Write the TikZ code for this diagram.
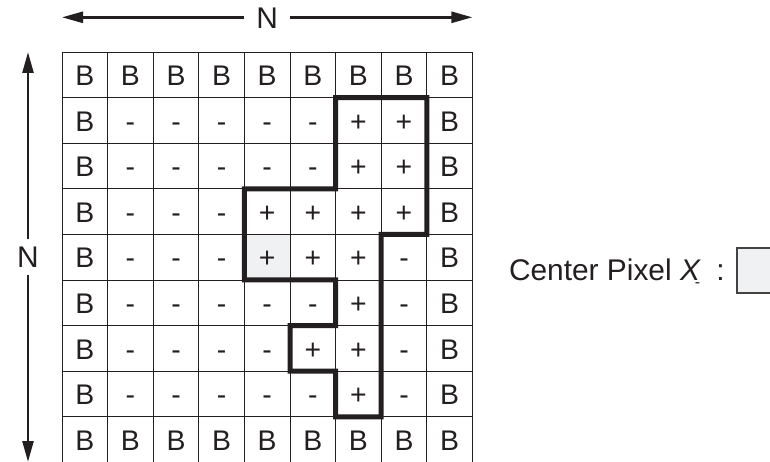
\documentclass[tikz,border=0pt]{standalone}
\usepackage{fontspec}
\setmainfont{Liberation Sans}
\usetikzlibrary{arrows.meta}
\definecolor{ink}{HTML}{231F20}
\definecolor{pixgray}{HTML}{F0F1F3}
\begin{document}
\begin{tikzpicture}[x=1bp,y=-1bp,
  cell/.style={draw=ink, line width=0.9bp, minimum width=45.6bp, minimum height=45.6bp,
    inner sep=0pt, outer sep=0pt, text height=21.5bp, text depth=0pt,
    font=\fontsize{28.5}{28.5}\selectfont, text=ink},
  dimlbl/.style={font=\fontsize{30}{30}\selectfont, text=ink, text height=21.5bp,
    text depth=0pt, inner xsep=12bp, inner ysep=7bp, outer sep=0pt},
  dimarrow/.style={draw=ink, line width=2.6bp, -{Triangle[length=21bp,width=11bp]}},
  region/.style={draw=ink, line width=5bp, line join=miter},
  lbl/.style={font=\fontsize{30}{30}\selectfont, text=ink, inner sep=0pt, outer sep=0pt},
  pixbox/.style={draw=ink!85, fill=pixgray, line width=1.2bp, minimum width=60bp,
    minimum height=45bp, inner sep=0pt, outer sep=0pt},
]
\useasboundingbox (0,0) rectangle (770,462);

% grid of cells
\foreach \rowlist [count=\ri] in {
  {B,B,B,B,B,B,B,B,B},
  {B,-,-,-,-,-,+,+,B},
  {B,-,-,-,-,-,+,+,B},
  {B,-,-,-,+,+,+,+,B},
  {B,-,-,-,+,+,+,-,B},
  {B,-,-,-,-,-,+,-,B},
  {B,-,-,-,-,+,+,-,B},
  {B,-,-,-,-,-,+,-,B},
  {B,B,B,B,B,B,B,B,B}}
{
  \foreach \sym [count=\ci] in \rowlist {
    \ifnum\ri\ci=55 \def\cellfill{pixgray}\else\def\cellfill{none}\fi
    \node[cell, fill=\cellfill] (c-\ri-\ci) at ({62+(\ci-0.5)*45.6},{52+(\ri-0.5)*45.6}) {\sym};
  }
}

% thick outline of the + region
\draw[region] (c-2-7.north west) -- (c-2-8.north east) -- (c-4-8.south east)
  -- (c-4-8.south west) -- (c-8-7.south east) -- (c-8-7.south west)
  -- (c-8-7.north west) -- (c-7-6.south west) -- (c-7-6.north west)
  -- (c-7-6.north east) -- (c-5-6.south east) -- (c-5-5.south west)
  -- (c-4-5.north west) -- (c-4-6.north east) -- cycle;

% dimension arrows
\coordinate (hl) at (62,17.3);
\coordinate (hr) at (472.4,17.3);
\node[dimlbl] (nh) at (267.2,17.3) {N};
\draw[dimarrow] (nh) -- (hl);
\draw[dimarrow] (nh) -- (hr);

\coordinate (vt) at (28,52);
\coordinate (vb) at (28,462);
\node[dimlbl] (nv) at (28,257.2) {N};
\draw[dimarrow] (nv) -- (vt);
\draw[dimarrow] (nv) -- (vb);

% center pixel label
\node[lbl, anchor=base west] (cpl) at (509,281)
  {Center Pixel \textit{X}\kern-6bp\raisebox{-7bp}{\fontsize{16}{16}\selectfont -}\hspace{16bp}:};
\node[pixbox, anchor=north west] (cpx) at (737,248) {};
\end{tikzpicture}
\end{document}
